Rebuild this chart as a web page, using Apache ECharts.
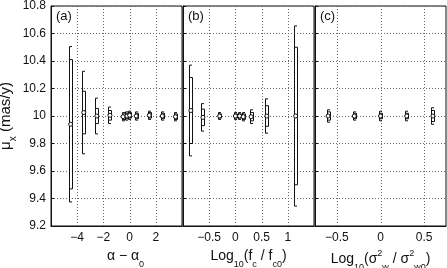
<!DOCTYPE html>
<html><head><meta charset="utf-8">
<script src="https://cdn.jsdelivr.net/npm/echarts@6/dist/echarts.min.js"></script>
<style>html,body{margin:0;padding:0;background:#fff}#c{width:447px;height:268px}</style>
</head><body><div id="c"></div>
<script>
// Panel (a): alpha - alpha0
const xA = [-4.5, -3.5, -2.5, -1.5, -0.5, -0.2, 0, 0.5, 1.5, 2.5, 3.5];
const yA = [9.94, 10.025, 10.0, 10.005, 9.995, 10.0, 10.005, 10.0, 10.005, 10.0, 9.995];
const outerA = [0.565, 0.30, 0.13, 0.06, 0.03, 0.03, 0.03, 0.03, 0.03, 0.03, 0.03];
const innerA = [0.47, 0.155, 0.055, 0.035, 0.02, 0.02, 0.02, 0.02, 0.02, 0.02, 0.02];
// Panel (b): log10(fc/fc0)
const xB = [-0.85, -0.62, -0.3, 0, 0.08, 0.15, 0.3, 0.6, 1.15];
const yB = [10.04, 9.99, 10.0, 10.0, 10.0, 9.995, 9.995, 10.0, 10.0];
const outerB = [0.33, 0.10, 0.025, 0.025, 0.025, 0.03, 0.05, 0.125, 0.655];
const innerB = [0.24, 0.06, 0.015, 0.015, 0.015, 0.02, 0.03, 0.075, 0.50];
// Panel (c): log10(sigma_w^2/sigma_w0^2)
const xC = [-0.6, -0.3, 0, 0.3, 0.6];
const yC = [10.0, 10.0, 10.0, 10.0, 10.0];
const outerC = [0.045, 0.03, 0.035, 0.035, 0.06];
const innerC = [0.03, 0.02, 0.02, 0.02, 0.04];
// axes
const yMin = 9.2, yMax = 10.8, yStep = 0.2;
const xRangeA = [-6, 4], xStepA = 2, xLabelsA = [-4, -2, 0, 2];
const xRangeB = [-1, 1.5], xStepB = 0.5, xLabelsB = [-0.5, 0, 0.5, 1];
const xRangeC = [-0.75, 0.75], xStepC = 0.25, xLabelsC = [-0.5, 0, 0.5];
const panelLabels = ['(a)', '(b)', '(c)'];

const FONT = 'Liberation Sans';
const ink = '#111';
const gridColor = '#666';

function fmtNum(v) {
  const r = Math.round(v * 100) / 100;
  return (r < 0 ? '\u2212' : '') + String(Math.abs(r));
}
function labelFormatter(list) {
  return function (v) {
    for (const l of list) if (Math.abs(l - v) < 1e-6) return fmtNum(v);
    return '';
  };
}
function zip(x, y, o, i) { return x.map((v, k) => [v, y[k], o[k], i[k]]); }

function renderItem(params, api) {
  const x = api.value(0), y = api.value(1), eo = api.value(2), ei = api.value(3);
  const c = api.coord([x, y]);
  const oHi = api.coord([x, y + eo])[1], oLo = api.coord([x, y - eo])[1];
  const iHi = api.coord([x, y + ei])[1], iLo = api.coord([x, y - ei])[1];
  const xo = Math.round(c[0] - 1.5) + 0.5, xi = Math.round(c[0] + 1.5) + 0.5;
  const cap = 2.5;
  const st = { stroke: ink, lineWidth: 1, fill: null };
  return {
    type: 'group',
    children: [
      { type: 'polyline', shape: { points: [[xo + cap, oHi], [xo, oHi], [xo, oLo], [xo + cap, oLo]] }, style: st },
      { type: 'polyline', shape: { points: [[xi - cap, iHi], [xi, iHi], [xi, iLo], [xi - cap, iLo]] }, style: st },
      { type: 'circle', shape: { cx: c[0], cy: c[1], r: 2 }, style: { stroke: ink, lineWidth: 1, fill: '#fff' } }
    ]
  };
}

function renderGridLine(params, api) {
  const v = api.value(0);
  const p0 = api.coord([v, yMin]), p1 = api.coord([v, yMax]);
  const x = Math.round(p0[0]) + 0.5;
  return {
    type: 'line',
    shape: { x1: x, y1: p0[1], x2: x, y2: p1[1] },
    style: { stroke: gridColor, lineWidth: 1, lineDash: [1, 2] },
    silent: true
  };
}

const grids = [
  { left: 51, top: 6, width: 131, height: 220 },
  { left: 183, top: 6, width: 131, height: 220 },
  { left: 315, top: 6, width: 131, height: 220 }
].map(g => Object.assign(g, { show: true, borderColor: ink, borderWidth: 1, containLabel: false, outerBoundsMode: 'none' }));

function richName(shift) {
  return {
    padding: [0, 0, 0, shift],
    rich: {
      t: { fontFamily: FONT, fontSize: 14, color: ink, lineHeight: 20, verticalAlign: 'middle' },
      s: { fontFamily: FONT, fontSize: 9, color: ink, lineHeight: 20, verticalAlign: 'bottom', padding: [0, 0, -3, 0] },
      p: { fontFamily: FONT, fontSize: 9, color: ink, lineHeight: 20, verticalAlign: 'top' }
    }
  };
}

function xAxis(idx, range, step, labels, name, shift) {
  return {
    type: 'value', gridIndex: idx, min: range[0], max: range[1], interval: step,
    axisLine: { show: true, onZero: false, lineStyle: { color: ink } },
    axisTick: { show: false },
    axisLabel: { formatter: labelFormatter(labels), color: ink, fontFamily: FONT, fontSize: 12, margin: 6, showMinLabel: true, showMaxLabel: true },
    splitLine: { show: false },
    name: name, nameLocation: 'middle', nameGap: 15,
    nameTextStyle: richName(shift)
  };
}
function yAxis(idx, showLabels) {
  return {
    type: 'value', gridIndex: idx, min: yMin, max: yMax, interval: yStep,
    axisLine: { show: true, onZero: false, lineStyle: { color: ink } },
    axisTick: { show: true, inside: true, length: 3, lineStyle: { color: ink } },
    axisLabel: { show: showLabels, color: ink, fontFamily: FONT, fontSize: 12, margin: 5 },
    splitLine: { show: true, lineStyle: { type: [1, 2], color: gridColor, width: 1 } },
    name: showLabels ? '{t|\u03bc}{s|x}{t| (mas/y)}' : '', nameLocation: 'middle', nameGap: 32, nameRotate: 90,
    nameTextStyle: { rich: { t: { fontFamily: FONT, fontSize: 15, color: ink, lineHeight: 20 }, s: { fontFamily: FONT, fontSize: 10, color: ink, lineHeight: 20, verticalAlign: 'bottom', padding: [0, 0, -3, 0] } } }
  };
}

const option = {
  animation: false,
  backgroundColor: '#fff',
  grid: grids,
  xAxis: [
    xAxis(0, xRangeA, xStepA, xLabelsA, '{t|\u03b1 \u2212 \u03b1}{s|0}', 18),
    xAxis(1, xRangeB, xStepB, xLabelsB, '{t|Log}{s|10}{t|(f}{s|c}{t| / f}{s|c0}{t|)}', 0),
    xAxis(2, xRangeC, xStepC, xLabelsC, '{t|Log}{s|10}{t|(\u03c3}{p|2}{s|w}{t| / \u03c3}{p|2}{s|w0}{t|)}', 0)
  ],
  yAxis: [yAxis(0, true), yAxis(1, false), yAxis(2, false)],
  graphic: panelLabels.map((t, k) => ({
    type: 'text', left: grids[k].left + 5, top: 10,
    style: { text: t, font: '13px ' + FONT, fill: ink }
  })),
  series: [
    { type: 'custom', xAxisIndex: 0, yAxisIndex: 0, renderItem: renderGridLine, data: xLabelsA.map(v => [v]), z: 1, silent: true },
    { type: 'custom', xAxisIndex: 1, yAxisIndex: 1, renderItem: renderGridLine, data: xLabelsB.map(v => [v]), z: 1, silent: true },
    { type: 'custom', xAxisIndex: 2, yAxisIndex: 2, renderItem: renderGridLine, data: xLabelsC.map(v => [v]), z: 1, silent: true },
    { type: 'custom', xAxisIndex: 0, yAxisIndex: 0, renderItem, data: zip(xA, yA, outerA, innerA), z: 5 },
    { type: 'custom', xAxisIndex: 1, yAxisIndex: 1, renderItem, data: zip(xB, yB, outerB, innerB), z: 5 },
    { type: 'custom', xAxisIndex: 2, yAxisIndex: 2, renderItem, data: zip(xC, yC, outerC, innerC), z: 5 }
  ]
};
const chart = echarts.init(document.getElementById('c'), null, { renderer: 'canvas' });
chart.setOption(option);
</script></body></html>
